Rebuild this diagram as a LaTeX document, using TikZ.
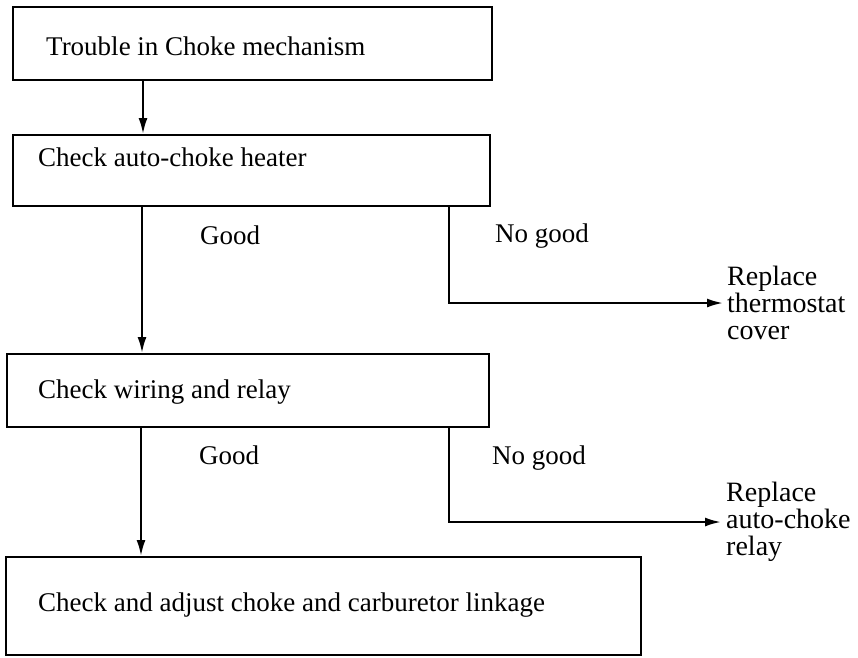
\documentclass[tikz,border=0pt]{standalone}
\usepackage{fontspec}
\setmainfont{Liberation Serif}
\usetikzlibrary{arrows.meta}
\begin{document}
\begin{tikzpicture}[x=1pt,y=-1pt,
  box/.style={draw, line width=1.8pt, inner sep=0pt, anchor=north west},
  txt/.style={font=\fontsize{27}{28}\selectfont, inner sep=0pt, anchor=west},
  side/.style={font=\fontsize{28}{27}\selectfont, inner sep=0pt, anchor=west, align=left},
  arr/.style={line width=2.2pt, -{Latex[length=16pt,width=9pt]}}]
\useasboundingbox (0,0) rectangle (858,657);
\node[box, minimum width=479pt, minimum height=73pt] (b1) at (12,6) {};
\node[txt] (t1) at (46,46) {Trouble in Choke mechanism};
\node[box, minimum width=477pt, minimum height=71pt] (b2) at (12,134) {};
\node[txt] (t2) at (38,157) {Check auto-choke heater};
\node[box, minimum width=482pt, minimum height=73pt] (b3) at (6,353) {};
\node[txt] (t3) at (38,392) {Check wiring and relay};
\node[box, minimum width=635pt, minimum height=98pt] (b4) at (5,556) {};
\node[txt] (t4) at (38,605) {Check and adjust choke and carburetor linkage};
\node[txt] (g1) at (200,235) {Good};
\node[txt] (n1) at (495,236) {No good};
\node[txt] (g2) at (199,455) {Good};
\node[txt] (n2) at (492,458) {No good};
\node[side] (r1) at (727,303) {Replace\\thermostat\\cover};
\node[side] (r2) at (726,522) {Replace\\auto-choke\\relay};
\coordinate (m1) at (143,0);
\coordinate (m2) at (142,0);
\coordinate (m3) at (141,0);
\coordinate (k) at (449,0);
\coordinate (e1) at (723,303);
\coordinate (e2) at (721,522);
\draw[arr] (b1.south -| m1) -- (b2.north -| m1);
\draw[arr] (b2.south -| m2) -- (b3.north -| m2);
\draw[arr] (b3.south -| m3) -- (b4.north -| m3);
\draw[arr] (b2.south -| k) |- (e1);
\draw[arr] (b3.south -| k) |- (e2);
\end{tikzpicture}
\end{document}
